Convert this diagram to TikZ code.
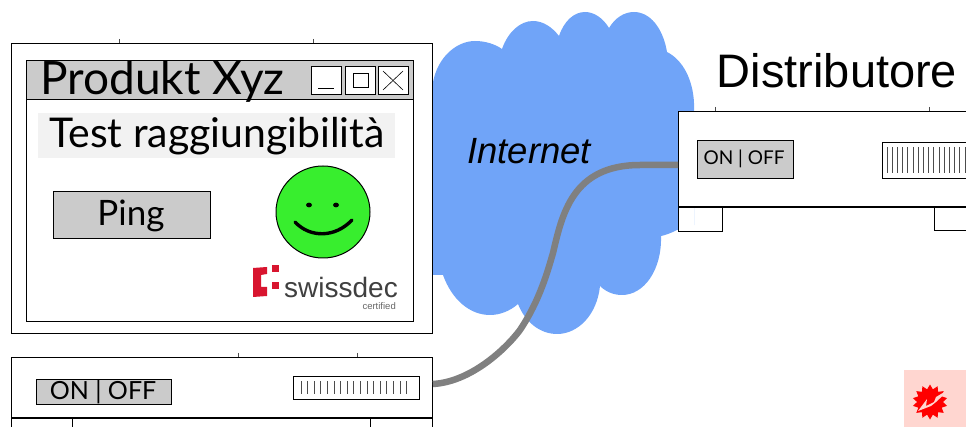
\documentclass[tikz,border=0pt]{standalone}
\usepackage{fontspec}
\setmainfont{Liberation Sans}
\newfontfamily\handfont{Lato}
\usetikzlibrary{shapes.geometric}
\definecolor{cloudblue}{HTML}{70A4F8}
\definecolor{panelgray}{HTML}{CBCBCB}
\definecolor{smilegreen}{HTML}{38EE2E}
\definecolor{swissred}{HTML}{D8152F}
\definecolor{warnpink}{HTML}{FFD6D0}
\tikzset{
  sketchbox/.style={draw=black, fill=white, line width=0.9pt, inner sep=0pt, anchor=north west},
  graybox/.style={sketchbox, fill=panelgray},
  winbtn/.style={sketchbox, minimum width=30, minimum height=28},
  handtext/.style={font=\handfont, text=black, inner sep=0pt},
  ticks/.style={line width=0.9pt, black!70}
}
\begin{document}
\begin{tikzpicture}[x=1pt,y=-1pt]
\useasboundingbox (0,0) rectangle (966,427);

% cloud
\fill[cloudblue] (432,90) .. controls (434,60) and (455,41) .. (475,41)
  .. controls (485,41) and (495,44) .. (502,49)
  .. controls (508,32) and (520,21) .. (533,21)
  .. controls (543,21) and (552,27) .. (559,36)
  .. controls (564,21) and (574,12) .. (585,12)
  .. controls (594,12) and (603,18) .. (609,28)
  .. controls (615,18) and (624,12) .. (634,12)
  .. controls (650,12) and (663,28) .. (667,52)
  .. controls (683,60) and (693,80) .. (694,103)
  -- (694,225) -- (677,230)
  .. controls (671,233) and (666,235) .. (661,236)
  .. controls (662,270) and (644,295) .. (622,295)
  .. controls (614,295) and (606,292) .. (600,286)
  .. controls (597,315) and (578,334) .. (557,334)
  .. controls (540,334) and (525,322) .. (518,304)
  .. controls (510,311) and (500,315) .. (490,315)
  .. controls (470,315) and (452,300) .. (443,275)
  -- (432,275) -- cycle;

% front system
\node[sketchbox, minimum width=421, minimum height=290] (window) at (11,43) {};
\node[sketchbox, minimum width=387, minimum height=261] (inner) at (26,60) {};
\node[graybox, minimum width=387, minimum height=39] (titlebar) at (26,60) {};
\node[handtext, anchor=west, font=\handfont\fontsize{46}{46}\selectfont] (title) at (40,82) {Produkt Xyz};
\node[winbtn] (minbtn) at (311,66) {};
\node[winbtn] (maxbtn) at (345,66) {};
\node[winbtn] (closebtn) at (378,66) {};
\draw[line width=0.8pt] (318,88) -- (334,88);
\draw[line width=0.9pt] (353,73) rectangle (368,87);
\draw[line width=0.6pt] (383,71) -- (403,90);
\draw[line width=0.6pt] (403,71) -- (383,90);

\node[fill=black!5, anchor=north west, minimum width=357, minimum height=45, inner sep=0pt] (band) at (38,113) {};
\node[handtext, font=\handfont\fontsize{41}{41}\selectfont] (test) at (217,136) {Test raggiungibilità};
\node[graybox, minimum width=157, minimum height=47] (ping) at (53,191) {};
\node[handtext, font=\handfont\fontsize{35}{35}\selectfont] (pinglabel) at (131,216) {Ping};

% smiley
\draw[fill=smilegreen, line width=1pt] (323,212) ellipse (47 and 46);
\fill (309,205) ellipse (3 and 2.4);
\fill (336,205) ellipse (3 and 2.4);
\draw[line width=3.4pt, line cap=round] (295,222) .. controls (310,238) and (335,238) .. (352,220);

% logo
\fill[swissred] (253,268) -- (267,267) -- (267,274) -- (261,275) -- (261,287) -- (267,287) -- (267,296) -- (253,297) -- cycle;
\fill[swissred] (272,265) rectangle (279,272);
\fill[swissred] (272,282) rectangle (279,289);
\node[anchor=west, inner sep=0pt, text=black!75, font=\fontsize{28}{28}\selectfont] (swissdec) at (284,287) {swissdec};
\node[anchor=east, inner sep=0pt, text=black!60, font=\fontsize{9.5}{10}\selectfont] (certified) at (396,306) {certified};

% device bottom
\node[sketchbox, minimum width=421, minimum height=61] (devleft) at (11,357) {};
\draw[line width=1.8pt] (11,418) -- (432,418);
\draw[line width=0.8pt] (11,418) -- (11,427);
\draw[line width=0.8pt] (72,418) -- (72,427);
\draw[line width=0.8pt] (370,418) -- (370,427);
\draw[line width=0.8pt] (432,418) -- (432,427);
\node[graybox, minimum width=135, minimum height=25] (switchleft) at (36,379) {};
\node[handtext, font=\handfont\fontsize{25}{25}\selectfont] (switchlabelleft) at (103,392) {ON | OFF};
\node[sketchbox, minimum width=126, minimum height=23] (slotleft) at (293,376) {};
\foreach \i in {0,...,16}
  \draw[ticks] (301+\i*6.6,381) -- (301+\i*6.6,394);

% device right
\fill[white] (678,207) rectangle (694,231);
\node[sketchbox, minimum width=300, minimum height=96] (devright) at (678,111) {};
\draw[line width=1.3pt] (678,207) -- (966,207);
\draw[line width=0.9pt] (678,207) -- (678,231) -- (722,231) -- (722,207);
\draw[line width=0.9pt] (966,230) -- (934,230) -- (934,207);
\node[graybox, minimum width=96, minimum height=38] (switchright) at (697,140) {};
\node[handtext, font=\handfont\fontsize{19}{19}\selectfont] (switchlabelright) at (744,159) {ON | OFF};
\node[sketchbox, minimum width=90, minimum height=36] (slotright) at (882,142) {};
\foreach \i in {0,...,15}
  \draw[ticks] (887+\i*5.2,147) -- (887+\i*5.2,173);

% small marks
\foreach \mx/\my in {119/41, 313/41, 238/355, 357/355, 715/109, 929/109}
  \draw[line width=0.9pt, black!70] (\mx,\my-2) -- (\mx,\my+2);

% cable
\draw[line width=6.5pt, black!50] (devleft.east |- 0,384) .. controls (470,382) and (505,350) .. (520,330)
  .. controls (540,300) and (548,270) .. (553,253)
  .. controls (562,215) and (572,165) .. (640,165)
  -- (devright.west |- 0,165);

% labels
\node[inner sep=0pt, font=\itshape\fontsize{36.5}{36}\selectfont] (internet) at (529,151) {Internet};
\node[inner sep=0pt, font=\fontsize{47}{47}\selectfont] (distributore) at (837,71) {Distributore};

% warning
\node[fill=warnpink, anchor=north west, minimum width=62, minimum height=57, inner sep=0pt] (warnbox) at (904,370) {};
\node[star, star points=14, star point ratio=1.35, fill=red, minimum size=35, inner sep=0pt] (warnstar) at (930,402) {};
\fill[warnpink] (951,388) -- (936,397) -- (934,402) -- (926,406) -- (927,399) -- (918,411) -- (931,406) -- (936,402) -- cycle;
\end{tikzpicture}
\end{document}
